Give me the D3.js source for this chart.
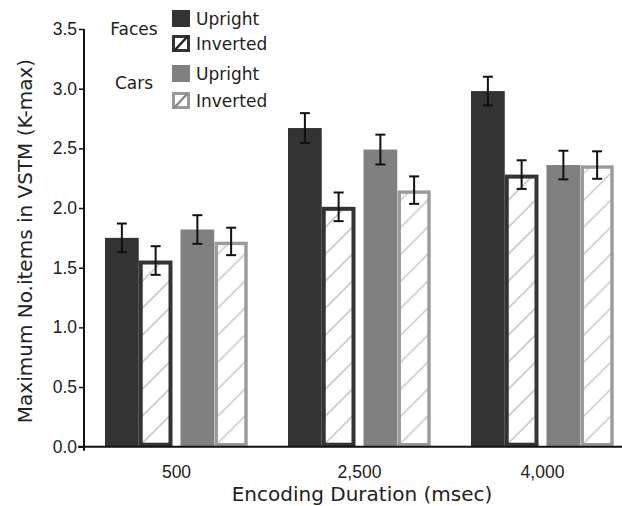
<!DOCTYPE html>
<html>
<head>
<meta charset="utf-8">
<script src="https://cdn.jsdelivr.net/npm/d3@7"></script>
<style>
    body { margin: 0; background: #fff; }
    svg { display: block; font-family: "DejaVu Sans", Verdana, sans-serif; }
</style>
</head>
<body>
<script>
"use strict";

// data
var durations = ["500", "2,500", "4,000"];
var stimuli = ["Faces", "Cars"];
var orientations = ["Upright", "Inverted"];
var facesUpright = [1.75, 2.67, 2.98];
var facesInverted = [1.56, 2.01, 2.28];
var carsUpright = [1.82, 2.49, 2.36];
var carsInverted = [1.72, 2.15, 2.36];
var facesUprightErr = [0.12, 0.125, 0.12];
var facesInvertedErr = [0.12, 0.12, 0.12];
var carsUprightErr = [0.12, 0.125, 0.12];
var carsInvertedErr = [0.115, 0.115, 0.115];
var yTicks = [0, 0.5, 1, 1.5, 2, 2.5, 3, 3.5];

var width = 622, height = 506;
var margin = {top: 29, left: 84, bottom: 59};

var colors = {
    Faces: {fill: "#333333", stroke: "#333333", hatch: "#b8b8b8", legendHatch: "#222"},
    Cars: {fill: "#808080", stroke: "#9a9a9a", hatch: "#c0c0c0", legendHatch: "#888"}
};

var rows = [];
durations.forEach(function(d, i) {
    rows.push({dur: d, stim: "Faces", ori: "Upright", v: facesUpright[i], e: facesUprightErr[i]});
    rows.push({dur: d, stim: "Faces", ori: "Inverted", v: facesInverted[i], e: facesInvertedErr[i]});
    rows.push({dur: d, stim: "Cars", ori: "Upright", v: carsUpright[i], e: carsUprightErr[i]});
    rows.push({dur: d, stim: "Cars", ori: "Inverted", v: carsInverted[i], e: carsInvertedErr[i]});
});

var y = d3.scaleLinear().domain([0, 3.5]).range([height - margin.bottom - 0.3, margin.top]);
var x = d3.scaleBand().domain(durations).range([85, 634]);
var xStim = d3.scaleBand().domain(stimuli).range([-71.5, 71.5]).paddingInner(0.106);
var xOri = d3.scaleBand().domain(orientations).range([0, xStim.bandwidth()]);

function barLeft(d) {
    return x(d.dur) + x.bandwidth() / 2 + xStim(d.stim) + xOri(d.ori);
}

var svg = d3.select("body").append("svg")
    .attr("width", width)
    .attr("height", height);

var defs = svg.append("defs");
var sw = 4;

// hatch pattern per inverted bar, anchored at the bar's bottom-left
rows.filter(function(d) { return d.ori === "Inverted"; }).forEach(function(d, i) {
    d.pid = "hatch" + i;
    var p = defs.append("pattern")
        .attr("id", d.pid)
        .attr("patternUnits", "userSpaceOnUse")
        .attr("x", barLeft(d))
        .attr("y", y(0))
        .attr("width", 27)
        .attr("height", 27);
    p.append("rect").attr("width", 27).attr("height", 27).attr("fill", "#fff");
    p.append("path")
        .attr("d", "M-2,2 L2,-2 M0,27 L27,0 M25,29 L29,25")
        .attr("stroke", colors[d.stim].hatch)
        .attr("stroke-width", 1.3);
});

var baseY = y(0);

// upright bars
svg.selectAll(".bar.up")
    .data(rows.filter(function(d) { return d.ori === "Upright"; }))
    .enter().append("rect")
    .attr("class", "bar up")
    .attr("x", barLeft)
    .attr("y", function(d) { return y(d.v); })
    .attr("width", xOri.bandwidth())
    .attr("height", function(d) { return baseY - y(d.v); })
    .attr("fill", function(d) { return colors[d.stim].fill; });

// inverted bars (outlined + hatched)
svg.selectAll(".bar.inv")
    .data(rows.filter(function(d) { return d.ori === "Inverted"; }))
    .enter().append("rect")
    .attr("class", "bar inv")
    .attr("x", function(d) { return barLeft(d) + sw / 2; })
    .attr("y", function(d) { return y(d.v) + sw / 2; })
    .attr("width", xOri.bandwidth() - sw)
    .attr("height", function(d) { return baseY - y(d.v) - sw; })
    .attr("fill", function(d) { return "url(#" + d.pid + ")"; })
    .attr("stroke", function(d) { return colors[d.stim].stroke; })
    .attr("stroke-width", function(d) { return d.stim === "Faces" ? sw : 3.4; });

// error bars
var err = svg.selectAll(".err")
    .data(rows)
    .enter().append("g")
    .attr("class", "err")
    .attr("stroke", "#111")
    .attr("stroke-width", 2)
    .attr("transform", function(d) { return "translate(" + (barLeft(d) + xOri.bandwidth() / 2) + ",0)"; });

err.append("line")
    .attr("y1", function(d) { return y(d.v + d.e); })
    .attr("y2", function(d) { return y(d.v - d.e); });
err.append("line")
    .attr("x1", -5).attr("x2", 5)
    .attr("y1", function(d) { return y(d.v + d.e); })
    .attr("y2", function(d) { return y(d.v + d.e); });
err.append("line")
    .attr("x1", -5).attr("x2", 5)
    .attr("y1", function(d) { return y(d.v - d.e); })
    .attr("y2", function(d) { return y(d.v - d.e); });

// y axis
var yAxis = svg.append("g")
    .attr("transform", "translate(" + margin.left + ",0)")
    .call(d3.axisLeft(y).tickValues(yTicks).tickSize(5).tickSizeOuter(0).tickPadding(2).tickFormat(d3.format(".1f")));
yAxis.select(".domain").remove();
yAxis.selectAll("line").attr("stroke", "#111").attr("stroke-width", 1.5);
yAxis.selectAll("text").attr("font-size", 17.5).attr("fill", "#222").attr("font-family", null);
yAxis.append("line")
    .attr("y1", y(3.5)).attr("y2", baseY + 4)
    .attr("stroke", "#111").attr("stroke-width", 2);

// x axis
var xAxis = svg.append("g")
    .attr("transform", "translate(0," + baseY + ")")
    .call(d3.axisBottom(x).tickSize(0).tickPadding(19));
xAxis.select(".domain").remove();
xAxis.selectAll("text").attr("font-size", 17.5).attr("fill", "#222").attr("font-family", null);
xAxis.append("line")
    .attr("x1", margin.left - 6).attr("x2", width)
    .attr("stroke", "#111").attr("stroke-width", 2);

// axis titles
svg.append("text")
    .attr("x", 362)
    .attr("y", 501)
    .attr("text-anchor", "middle")
    .attr("font-size", 20)
    .attr("fill", "#222")
    .text("Encoding Duration (msec)");

svg.append("text")
    .attr("transform", "translate(32,241) rotate(-90)")
    .attr("text-anchor", "middle")
    .attr("font-size", 20)
    .attr("fill", "#222")
    .text("Maximum No.items in VSTM (K-max)");

// legend
var legendTop = {Faces: 10, Cars: 65};
var legend = svg.selectAll(".legend")
    .data(stimuli)
    .enter().append("g")
    .attr("class", "legend")
    .attr("transform", function(s) { return "translate(0," + legendTop[s] + ")"; });

legend.append("text")
    .attr("x", 134)
    .attr("y", function(s) { return s === "Faces" ? 25 : 24; })
    .attr("text-anchor", "middle")
    .attr("font-size", 17)
    .attr("fill", "#222")
    .text(function(s) { return s; });

legend.each(function(s) {
    var g = d3.select(this);
    var gap = s === "Faces" ? 25 : 27;
    orientations.forEach(function(o, j) {
        var top = j * gap;
        if (o === "Upright") {
            g.append("rect")
                .attr("x", 172).attr("y", top)
                .attr("width", 18).attr("height", 17)
                .attr("fill", colors[s].fill);
        } else {
            g.append("rect")
                .attr("x", 173.5).attr("y", top + 1.5)
                .attr("width", 15).attr("height", 14)
                .attr("fill", "#fff")
                .attr("stroke", colors[s].stroke)
                .attr("stroke-width", 3);
            g.append("line")
                .attr("x1", 174).attr("y1", top + 16)
                .attr("x2", 188).attr("y2", top + 1)
                .attr("stroke", colors[s].legendHatch)
                .attr("stroke-width", 2.5);
        }
        g.append("text")
            .attr("x", 196)
            .attr("y", top + 15)
            .attr("font-size", 17)
            .attr("fill", "#222")
            .text(o);
    });
});
</script>
</body>
</html>
